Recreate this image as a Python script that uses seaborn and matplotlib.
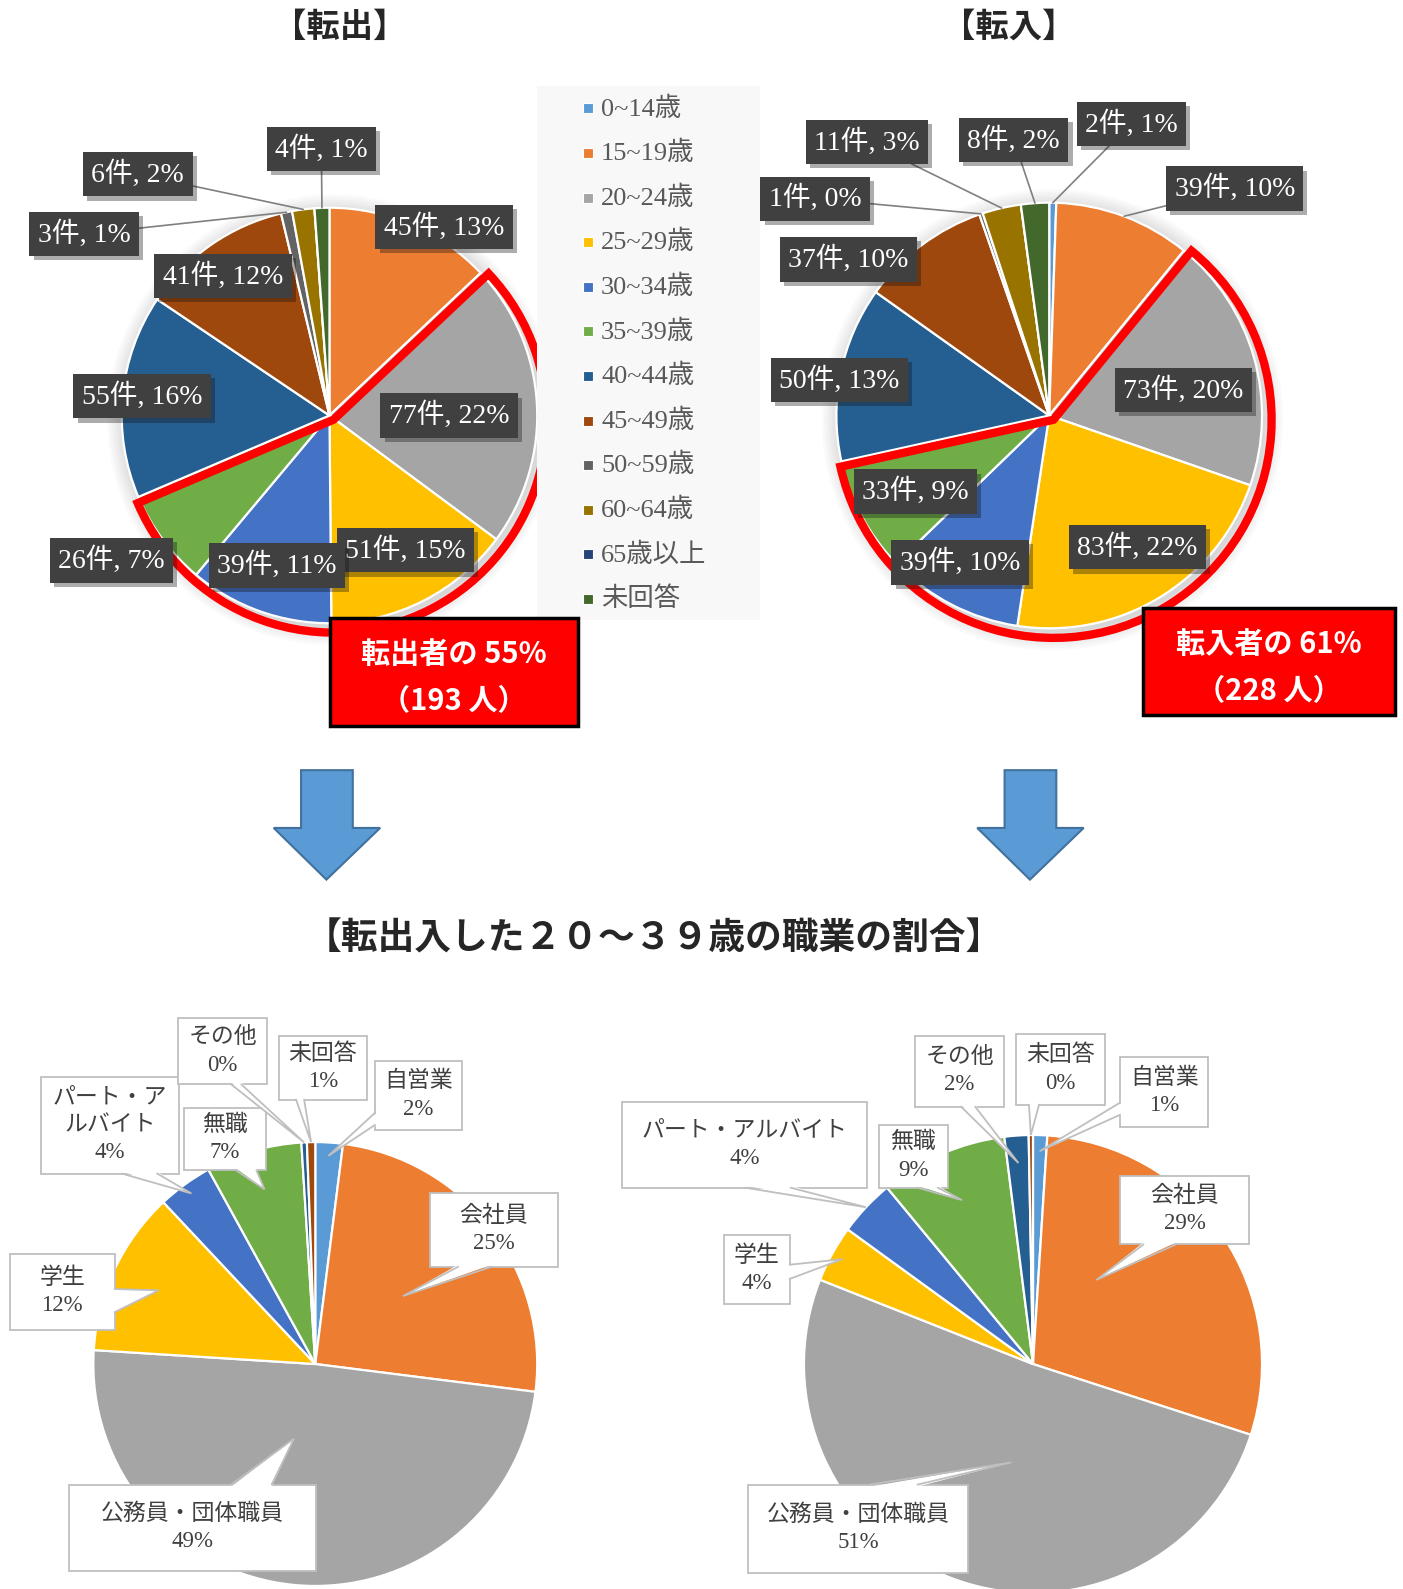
import matplotlib
matplotlib.use("Agg")
import matplotlib.pyplot as plt
import matplotlib.patches as mpatches
import matplotlib.patheffects as pe
import numpy as np
import seaborn as sns

# ---- data ----
age_groups = ["0~14歳", "15~19歳", "20~24歳", "25~29歳", "30~34歳", "35~39歳",
              "40~44歳", "45~49歳", "50~59歳", "60~64歳", "65歳以上", "未回答"]
out_counts = [0, 45, 77, 51, 39, 26, 55, 41, 3, 6, 0, 4]
out_pct = [0, 13, 22, 15, 11, 7, 16, 12, 1, 2, 0, 1]
in_counts = [2, 39, 73, 83, 39, 33, 50, 37, 1, 11, 0, 8]
in_pct = [1, 10, 20, 22, 10, 9, 13, 10, 0, 3, 0, 2]

jobs = ["自営業", "会社員", "公務員・団体職員", "学生", "パート・アルバイト",
        "無職", "その他", "未回答"]
job_out_share = [2.0, 25.0, 49.0, 12.0, 4.0, 7.0, 0.4, 0.6]
job_in_share = [1.0, 29.0, 51.0, 4.0, 4.0, 9.0, 1.7, 0.3]

age_colors = ["#5B9BD5", "#ED7D31", "#A5A5A5", "#FFC000", "#4472C4", "#70AD47",
              "#255E91", "#9E480E", "#636363", "#997300", "#264478", "#43682B"]
focus = slice(2, 6)  # 20~39歳

sns.set_theme(style="white")
plt.rcParams["font.family"] = ["Noto Sans CJK JP", "DejaVu Sans"]
SERIF = ["Liberation Serif", "Noto Sans CJK JP"]
palette = sns.color_palette(age_colors)

W, H = 1384, 1568
fig = plt.figure(figsize=(14.03, 15.89), dpi=100)


def add_pie(cx, cy, r, values, colors, shadow=False):
    pad = 1.25
    ax = fig.add_axes([(cx - pad * r) / W, 1 - (cy + pad * r) / H,
                       2 * pad * r / W, 2 * pad * r / H])
    wedges, _ = ax.pie(values, colors=colors, startangle=90, counterclock=False,
                       wedgeprops=dict(edgecolor="white", linewidth=1.6))
    if shadow:
        for k in range(8):
            ax.add_patch(mpatches.Circle((0.015, -0.02), 1 + 0.012 * k, fc="black",
                                         ec="none", alpha=0.018, zorder=0))
    ax.set_xlim(-pad, pad)
    ax.set_ylim(-pad, pad)
    ax.set_aspect("equal")
    ax.axis("off")
    return ax, wedges


ax_out, w_out = add_pie(325, 410, 205, out_counts, palette, shadow=True)
ax_in, w_in = add_pie(1035, 410, 210, in_counts, palette, shadow=True)
ax_jo, w_jo = add_pie(311, 1346, 219, job_out_share, palette[:8])
ax_ji, w_ji = add_pie(1019, 1346, 226, job_in_share, palette[:8])

# red outline around the 20~39 slices
for ax, ws in [(ax_out, w_out), (ax_in, w_in)]:
    ax.add_patch(mpatches.Wedge((0.02, -0.02), 1.025, ws[5].theta1, ws[2].theta2,
                                fill=False, ec="#FF0000", lw=6, zorder=5,
                                joinstyle="miter", clip_on=False))

ov = fig.add_axes([0, 0, 1, 1])
ov.set_xlim(0, W)
ov.set_ylim(H, 0)
ov.axis("off")
ov.set_zorder(10)
for a in (ax_out, ax_in, ax_jo, ax_ji):
    a.apply_aspect()


def wedge_point(ax, w, frac, afrac=0.5):
    ang = np.deg2rad(w.theta2 - afrac * (w.theta2 - w.theta1))
    disp = ax.transData.transform((frac * w.r * np.cos(ang), frac * w.r * np.sin(ang)))
    return ov.transData.inverted().transform(disp)


# titles
ov.text(335, 27, "【転出】", ha="center", va="center", fontsize=24, fontweight="bold")
ov.text(995, 27, "【転入】", ha="center", va="center", fontsize=24, fontweight="bold")
ov.text(645, 927, "【転出入した２０～３９歳の職業の割合】", ha="center", va="center",
        fontsize=26.5, fontweight="bold")

# dark data labels on the age pies
out_label_pos = {1: (438, 224), 2: (443, 410), 3: (400, 543), 4: (273, 558),
                 5: (110, 553), 6: (140, 391), 7: (220, 272), 8: (83, 231),
                 9: (136, 172), 11: (317, 147)}
out_leader = {8, 9, 11}
in_label_pos = {0: (1116, 122), 1: (1218, 186), 2: (1167, 385), 3: (1122, 540),
                4: (947, 555), 5: (903, 485), 6: (828, 375), 7: (837, 256),
                8: (804, 196), 9: (855, 140), 11: (1000, 138)}
in_leader = {0, 1, 8, 9, 11}

for ax, ws, counts, pcts, pos, leaders in [
        (ax_out, w_out, out_counts, out_pct, out_label_pos, out_leader),
        (ax_in, w_in, in_counts, in_pct, in_label_pos, in_leader)]:
    for i, (x, y) in pos.items():
        arrow = None
        xy = (x, y)
        if i in leaders:
            xy = wedge_point(ax, ws[i], 1.0)
            arrow = dict(arrowstyle="-", color="#808080", lw=1.2, shrinkA=0, shrinkB=0)
        t = ov.annotate(f"{counts[i]}件, {pcts[i]}%", xy=xy, xytext=(x, y),
                        ha="center", va="center", fontsize=20, color="white",
                        family=SERIF, arrowprops=arrow,
                        bbox=dict(boxstyle="square,pad=0.3", fc="#404040", ec="none"))
        t.get_bbox_patch().set_path_effects(
            [pe.withSimplePatchShadow(offset=(3, -3), alpha=0.35), pe.Normal()])

# red summary boxes
for (x0, y0, x1, y1), word, pcts, counts in [
        ((326, 610, 570, 716), "転出者の", out_pct, out_counts),
        ((1128, 600, 1376, 706), "転入者の", in_pct, in_counts)]:
    ov.add_patch(mpatches.Rectangle((x0, y0), x1 - x0, y1 - y0, fc="#FF0000",
                                    ec="black", lw=2.5, zorder=6))
    xc = (x0 + x1) / 2
    ov.text(xc, y0 + 35, f"{word} {sum(pcts[focus])}%", ha="center", va="center",
            color="white", fontsize=21, fontweight="bold", zorder=7)
    ov.text(xc, y0 + 82, f"（{sum(counts[focus])} 人）", ha="center", va="center",
            color="white", fontsize=21, fontweight="bold", zorder=7)

# legend
ov.add_patch(mpatches.Rectangle((530, 85), 220, 527, fc="#F8F8F8", ec="none", zorder=1))
for i, (name, col) in enumerate(zip(age_groups, palette)):
    y = 107 + 44 * i
    ov.scatter([580], [y], marker="s", s=42, color=col, edgecolor="white",
               linewidth=0.8, zorder=2)
    ov.text(593, y, name, ha="left", va="center", fontsize=19, color="#595959",
            family=SERIF, zorder=2)

# blue arrows
for xc in (322, 1016):
    ov.add_patch(mpatches.Polygon(
        [(xc - 25, 760), (xc + 26, 760), (xc + 26, 817), (xc + 53, 817),
         (xc, 868), (xc - 52, 817), (xc - 25, 817)],
        closed=True, fc="#5B9BD5", ec="#41719C", lw=1.5))

# occupation callouts: box, side of base, base span, depth into slice, angle share
job_layout_out = [
    ((370, 1047, 456, 1115), "left", (1098, 1110), 0.94, 0.5),
    ((424, 1177, 550, 1250), "bottom", (452, 485), 0.5, 0.5),
    ((68, 1465, 312, 1550), "top", (228, 268), 0.35, 0.56),
    ((10, 1237, 113, 1312), "right", (1272, 1295), 0.78, 0.5),
    ((40, 1063, 177, 1158), "bottom", (120, 155), 0.95, 0.5),
    ((182, 1093, 262, 1155), "bottom", (233, 253), 0.82, 0.5),
    ((176, 1005, 263, 1070), "bottom", (228, 238), 1.0, 0.5),
    ((275, 1022, 362, 1085), "bottom", (292, 300), 1.0, 0.5),
]
job_layout_in = [
    ((1105, 1043, 1192, 1112), "left", (1088, 1100), 0.93, 0.5),
    ((1105, 1160, 1232, 1228), "bottom", (1128, 1160), 0.46, 0.32),
    ((738, 1465, 955, 1552), "top", (858, 905), 0.44, 0.46),
    ((714, 1219, 779, 1287), "right", (1248, 1262), 0.95, 0.5),
    ((614, 1087, 855, 1172), "bottom", (735, 780), 1.0, 0.5),
    ((867, 1110, 935, 1172), "bottom", (905, 925), 0.78, 0.5),
    ((903, 1022, 990, 1092), "bottom", (948, 962), 0.88, 0.5),
    ((1002, 1020, 1090, 1090), "bottom", (1015, 1025), 1.0, 0.5),
]
GRAY = "#BFBFBF"


def callout(box, side, base, tip, text):
    x0, y0, x1, y1 = box
    ov.add_patch(mpatches.Rectangle((x0, y0), x1 - x0, y1 - y0, fc="white",
                                    ec=GRAY, lw=1.3, zorder=3))
    e = 2
    if side == "bottom":
        b1, b2, c1, c2 = (base[0], y1), (base[1], y1), (base[0], y1 - e), (base[1], y1 - e)
    elif side == "top":
        b1, b2, c1, c2 = (base[0], y0), (base[1], y0), (base[0], y0 + e), (base[1], y0 + e)
    elif side == "left":
        b1, b2, c1, c2 = (x0, base[0]), (x0, base[1]), (x0 + e, base[0]), (x0 + e, base[1])
    else:
        b1, b2, c1, c2 = (x1, base[0]), (x1, base[1]), (x1 - e, base[0]), (x1 - e, base[1])
    ov.add_patch(mpatches.Polygon([c1, c2, tuple(tip)], closed=True, fc="white",
                                  ec="none", zorder=4))
    ov.plot([b1[0], tip[0], b2[0]], [b1[1], tip[1], b2[1]], color=GRAY, lw=1.3,
            zorder=5, solid_joinstyle="miter")
    ov.text((x0 + x1) / 2, (y0 + y1) / 2, text, ha="center", va="center",
            fontsize=16.5, color="#404040", family=SERIF, linespacing=1.4, zorder=6)


wrap_left = {4: "パート・ア\nルバイト"}
for ax, ws, shares, layout, wraps in [
        (ax_jo, w_jo, job_out_share, job_layout_out, wrap_left),
        (ax_ji, w_ji, job_in_share, job_layout_in, {})]:
    for i, (box, side, base, frac, afrac) in enumerate(layout):
        tip = wedge_point(ax, ws[i], frac, afrac)
        name = wraps.get(i, jobs[i])
        callout(box, side, base, tip, f"{name}\n{round(shares[i]):.0f}%")

fig.savefig("out.png", dpi=100, facecolor="white")
